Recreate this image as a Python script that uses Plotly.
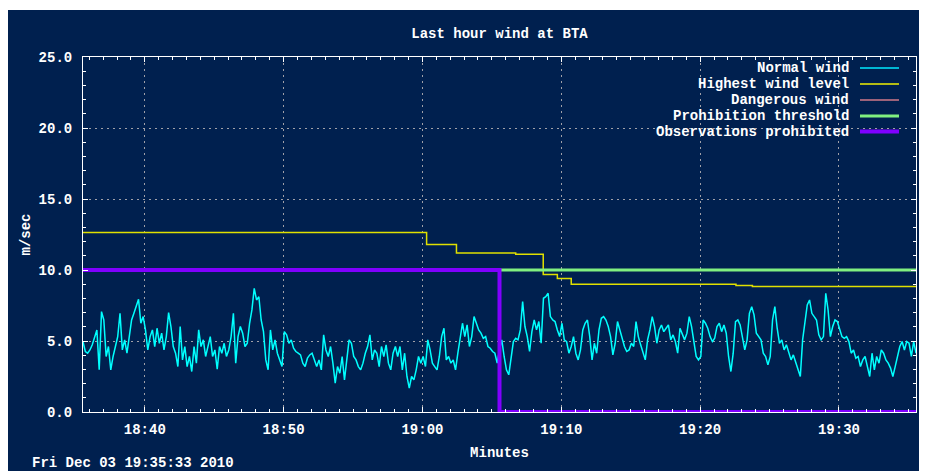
import pandas as pd
import plotly.graph_objects as go

# ---------------- data ----------------
start_time = "2010-12-03 18:35:33"
end_time = "2010-12-03 19:35:33"
sample_step = "10s"

# Normal wind speed (m/s), one sample every 10 s over the last hour
wind_part1 = [4.96, 4.26, 4.14, 4.37, 4.73, 5.31, 5.78, 2.97, 7.07, 6.48,
              3.91, 4.61, 2.97, 3.91, 4.61, 5.31, 6.95, 4.37, 5.08, 4.14,
              5.31, 6.48, 6.95, 7.42, 7.94, 6.25, 6.72, 5.78, 4.37, 5.31,
              5.78, 4.61, 5.90, 4.84, 5.55, 4.37, 5.31, 7.00, 6.02, 4.61,
              4.14, 3.20, 6.02, 3.67, 4.61, 3.20, 3.91, 2.85, 4.61, 3.44,
              5.78, 4.61, 5.08, 3.91, 4.61, 5.31, 3.91, 4.37, 3.01, 4.61,
              4.14, 4.84, 3.91, 4.37, 5.31, 6.95, 3.44, 5.31, 6.02, 5.55,
              4.61, 4.84, 6.25, 7.19, 8.71, 7.89, 8.12, 6.48, 5.66, 3.67,
              2.97, 5.78, 4.37, 5.08, 4.14, 3.67, 3.20, 5.66, 5.43]
wind_part2 = [4.84, 5.08, 4.49, 4.26, 4.14, 4.02, 3.44, 3.20, 3.79, 4.02,
              4.14, 3.67, 3.20, 3.67, 2.97, 5.43, 4.37, 3.91, 4.61, 3.44,
              2.03, 3.20, 2.73, 3.91, 2.26, 3.67, 5.08, 4.84, 3.91, 3.67,
              3.20, 2.97, 3.44, 4.14, 4.61, 5.43, 3.67, 4.37, 4.14, 3.20,
              4.61, 3.91, 4.73, 3.44, 2.97, 4.14, 4.61, 3.91, 4.61, 2.97,
              4.14, 2.50, 1.68, 2.50, 2.26, 2.97, 3.91, 3.44, 3.91, 3.20,
              5.08, 4.37, 3.44, 3.20, 2.97, 3.91, 5.31, 5.90, 3.67, 3.91,
              3.44, 3.67, 2.97, 4.14, 5.08, 6.25, 5.31, 6.13, 4.61, 5.31,
              6.72, 6.25, 5.78, 5.55, 5.19, 5.31, 4.61]
wind_part3 = [4.49, 4.26, 4.14, 3.44, 4.37, 5.08, 3.91, 2.97, 2.62, 3.91,
              4.96, 5.19, 5.08, 5.78, 7.77, 6.02, 5.31, 4.26, 5.66, 6.48,
              5.78, 6.37, 4.84, 8.01, 8.12, 8.36, 6.72, 6.48, 6.37, 5.78,
              5.31, 6.25, 5.08, 4.96, 4.14, 4.61, 5.31, 4.14, 3.67, 4.37,
              5.78, 6.25, 6.48, 5.31, 3.67, 4.84, 4.14, 5.78, 6.60, 6.72,
              6.48, 6.02, 5.31, 4.02, 4.84, 6.37, 5.78, 5.31, 4.61, 4.26,
              4.37, 4.84, 4.61, 6.37, 5.31, 4.73, 4.14, 3.67, 5.08, 5.78,
              6.72, 6.02, 4.84, 5.78, 6.13, 5.66, 5.90, 6.13, 5.08, 5.43,
              4.96, 4.14, 5.90, 5.55, 5.08, 5.55, 6.72, 6.02, 4.96, 3.91, 3.67]
wind_part4 = [3.91, 6.48, 6.25, 5.90, 5.31, 4.96, 5.19, 6.02, 6.25, 5.66,
              6.13, 5.55, 3.91, 2.85, 4.14, 6.37, 6.48, 6.13, 5.31, 4.37,
              5.08, 6.95, 7.42, 6.84, 5.55, 5.31, 5.08, 4.14, 3.91, 3.32,
              3.91, 6.48, 7.42, 5.90, 4.84, 5.08, 4.37, 4.73, 4.14, 3.67,
              4.02, 3.55, 2.97, 2.50, 5.08, 6.48, 7.54, 7.89, 6.95, 6.72,
              6.48, 5.43, 5.08, 5.31, 8.36, 7.19, 5.31, 6.02, 6.48, 6.37,
              5.90, 5.31, 5.19, 5.31, 4.96, 4.14, 4.37, 3.79, 3.91, 3.20,
              3.67, 3.91, 3.20, 2.50, 4.14, 2.97, 3.91, 3.44, 4.37, 4.14,
              3.67, 3.44, 3.09, 2.50, 3.20, 3.91, 4.61, 4.96, 4.37, 4.96,
              4.84, 3.91, 4.96, 4.14]
normal_wind = wind_part1 + wind_part2 + wind_part3 + wind_part4

# Highest wind level (step changes)
highest_times = ["18:35:33", "19:00:18", "19:02:27", "19:06:43", "19:08:42",
                 "19:09:43", "19:10:43", "19:22:35", "19:23:46", "19:35:33"]
highest_values = [12.64, 11.79, 11.20, 11.11, 9.68, 9.40, 8.99, 8.90, 8.83, 8.83]

# Prohibition threshold
threshold_times = ["19:05:33", "19:35:33"]
threshold_values = [10.0, 10.0]

# Observations prohibited flag level
prohibited_times = ["18:35:33", "19:05:33", "19:35:33"]
prohibited_values = [10.0, 0.0, 0.0]

y_ticks = [0, 5, 10, 15, 20, 25]
x_tick_start = "2010-12-03 18:40:00"

title_text = "Last hour wind at BTA"
y_title = "m/sec"
x_title = "Minutes"
stamp_text = "Fri Dec 03 19:35:33 2010"

legend_names = ["Normal wind", "Highest wind level", "Dangerous wind",
                "Prohibition threshold", "Observations prohibited"]
legend_colors = ["#00e8ff", "#f0f000", "#d07888", "#80f080", "#8000ff"]
legend_widths = [1.5, 1.5, 1.5, 3, 4]

# ---------------- figure ----------------
day = "2010-12-03 "
wind_times = pd.date_range(start=start_time, periods=len(normal_wind), freq=sample_step)

BG = "#00204f"
FONT = dict(family="Liberation Mono, DejaVu Sans Mono, monospace", size=14,
            color="white", weight="bold")

fig = go.Figure()

fig.add_trace(go.Scatter(x=wind_times, y=normal_wind, mode="lines",
                         name=legend_names[0],
                         line=dict(color="#00ffff", width=1.5)))
fig.add_trace(go.Scatter(x=[day + t for t in highest_times], y=highest_values,
                         mode="lines", name=legend_names[1], line_shape="hv",
                         line=dict(color="#e0e000", width=1.5)))
fig.add_trace(go.Scatter(x=[day + t for t in threshold_times], y=threshold_values,
                         mode="lines", name=legend_names[3],
                         line=dict(color="#80f080", width=3)))
fig.add_trace(go.Scatter(x=[day + t for t in prohibited_times], y=prohibited_values,
                         mode="lines", name=legend_names[4], line_shape="hv",
                         line=dict(color="#8000ff", width=4)))

# The page body has an 8px margin, so the figure starts at window (8, 8).
OFF = 8
W, H = 927 - OFF, 471 - OFF
L, R, T, B = 83 - OFF, 11, 57 - OFF, 59
pw, ph = W - L - R, H - T - B


def px_x(x):  # window pixel -> paper coordinate
    return (x - OFF - L) / pw


def px_y(y):
    return (H - B - (y - OFF)) / ph


shapes = [dict(type="rect", xref="paper", yref="paper", layer="below",
               x0=px_x(OFF - 2), x1=px_x(930), y0=px_y(475), y1=px_y(10),
               fillcolor=BG, line=dict(width=0))]
annotations = []
row_y = [68, 84, 100, 116, 131.5]
for name, col, wd, ry in zip(legend_names, legend_colors, legend_widths, row_y):
    annotations.append(dict(xref="paper", yref="paper", x=px_x(851), y=px_y(ry),
                            xanchor="right", yanchor="middle", text=name,
                            showarrow=False, font=FONT))
    shapes.append(dict(type="line", xref="paper", yref="paper",
                       x0=px_x(860), x1=px_x(899), y0=px_y(ry), y1=px_y(ry),
                       line=dict(color=col, width=wd)))

annotations.append(dict(xref="paper", yref="paper", x=px_x(30), y=px_y(463),
                        xanchor="left", yanchor="middle", text=stamp_text,
                        showarrow=False, font=FONT))

axis_common = dict(showline=True, linecolor="white", linewidth=1, mirror="ticks",
                   ticks="inside", ticklen=5, tickcolor="white", tickwidth=1,
                   showgrid=True, gridcolor="#a0a0a8", gridwidth=1,
                   griddash="2px,4px", zeroline=False, tickfont=FONT,
                   minor=dict(ticks="inside", ticklen=3, tickcolor="white",
                              showgrid=False))

fig.update_layout(
    width=W, height=H,
    margin=dict(l=L, r=R, t=T, b=B, pad=0),
    paper_bgcolor="white", plot_bgcolor=BG,
    showlegend=False,
    font=FONT,
    title=dict(text=title_text, x=0.5, xref="paper", y=1 - (33 - OFF) / H,
               yref="container", xanchor="center", yanchor="middle", font=FONT),
    xaxis=dict(axis_common, type="date",
               range=[start_time, end_time],
               tick0=x_tick_start, dtick=600000, tickformat="%H:%M",
               ticklabelstandoff=4,
               minor=dict(axis_common["minor"], dtick=60000, tick0=x_tick_start),
               title=dict(text=x_title, font=FONT, standoff=10)),
    yaxis=dict(axis_common, range=[0, 25], tickvals=y_ticks, tickformat=".1f",
               ticklabelstandoff=7,
               minor=dict(axis_common["minor"], dtick=1, tick0=0),
               title=dict(text=y_title, font=FONT, standoff=4)),
    shapes=shapes,
    annotations=annotations,
)

fig.write_html("out.html")
